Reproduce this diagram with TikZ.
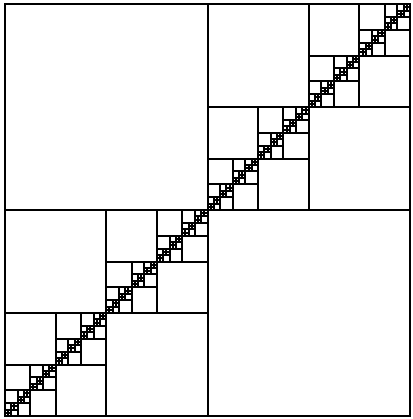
\documentclass[tikz,border=0pt]{standalone}
\begin{document}
\begin{tikzpicture}[x=1pt, y=1.017pt, line width=2pt]
    % Define side length and depth of the splitting
    \def\side{405}
    \def\depth{6}

    \useasboundingbox (-5pt,-3pt) rectangle (407pt,416pt);

    % Draw outer square
    \draw (0,0) rectangle (\side,\side);

    % Split every square on the diagonal into four
    \foreach \k in {0,...,\depth} {
        \pgfmathsetmacro{\s}{\side/2^\k}
        \pgfmathtruncatemacro{\n}{2^\k-1}
        \foreach \i in {0,...,\n} {
            \draw[line cap=rect] (\i*\s+\s/2, \i*\s) -- ++(0,\s);
            \draw[line cap=rect] (\i*\s, \i*\s+\s/2) -- ++(\s,0);
        }
    }
\end{tikzpicture}
\end{document}
